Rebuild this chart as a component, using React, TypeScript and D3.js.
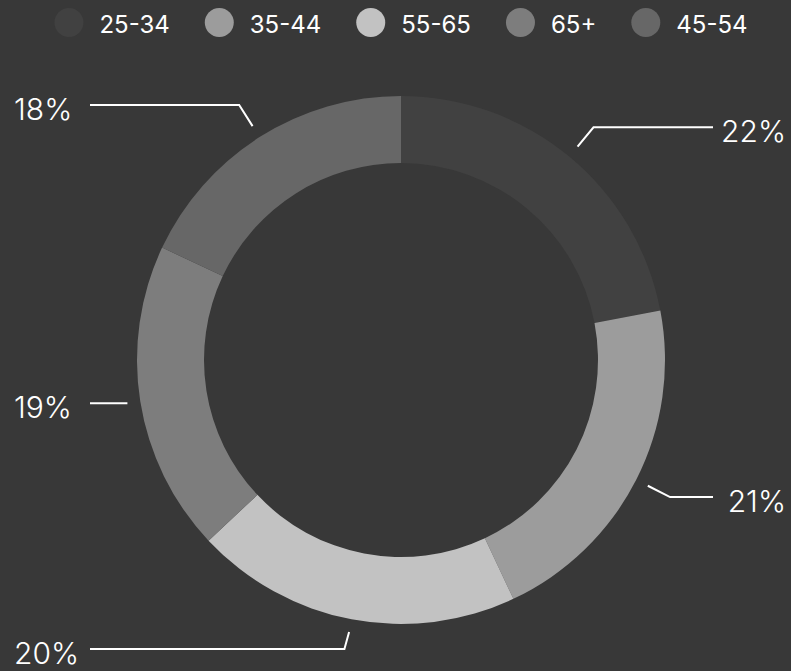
import React, { useEffect, useRef } from "react";
import * as d3 from "d3";

const categories = ["25-34", "35-44", "55-65", "65+", "45-54"];
const values = [22, 21, 20, 19, 18];
const colors = ["#414141", "#9c9c9c", "#c2c2c2", "#7d7d7d", "#676767"];

const W = 791;
const H = 671;
const BG = "#383838";
const FONT = "Inter, 'Noto Sans', sans-serif";

export default function App() {
  const ref = useRef<SVGSVGElement | null>(null);

  useEffect(() => {
    const svg = d3.select(ref.current);
    svg.selectAll("*").remove();

    svg.append("rect").attr("width", W).attr("height", H).attr("fill", BG);

    const cx = 401, cy = 360;
    const rOuter = 264, rInner = 197;

    const pie = d3.pie<number>().sort(null).value((d) => d);
    const arcs = pie(values);
    const arc = d3.arc<d3.PieArcDatum<number>>().innerRadius(rInner).outerRadius(rOuter);

    const g = svg.append("g").attr("transform", `translate(${cx},${cy})`);
    g.selectAll("path.slice")
      .data(arcs)
      .join("path")
      .attr("class", "slice")
      .attr("d", arc)
      .attr("fill", (_, i) => colors[i]);

    // labels with leader lines
    const r1 = rOuter + 13;
    const r2 = rOuter + 38;
    const leftTextX = 14;
    const rightTextX = 786;
    const leftLineX = 90;
    const rightLineX = 713;
    const topLimit = 100;
    const bottomLimit = 649;

    const lab = svg.append("g");
    arcs.forEach((a, i) => {
      const mid = (a.startAngle + a.endAngle) / 2;
      const sx = cx + r1 * Math.sin(mid);
      const sy = cy - r1 * Math.cos(mid);
      const ex = cx + r2 * Math.sin(mid);
      let ey = cy - r2 * Math.cos(mid);
      if (Math.abs(Math.cos(mid)) < 0.2) ey = sy;
      ey = Math.max(topLimit, Math.min(bottomLimit, ey));
      const right = Math.sin(mid) >= 0;
      const lx = right ? rightLineX : leftLineX;
      lab.append("path")
        .attr("d", d3.line()([[sx, sy], [ex, ey], [lx, ey]]))
        .attr("fill", "none")
        .attr("stroke", "#ffffff")
        .attr("stroke-width", 2);
      lab.append("text")
        .attr("x", right ? rightTextX : leftTextX)
        .attr("y", ey + 15)
        .attr("text-anchor", right ? "end" : "start")
        .attr("fill", "#ffffff")
        .attr("font-family", FONT)
        .attr("font-weight", 300)
        .attr("font-size", 30)
        .text(`${values[i]}%`);
    });

    // legend
    const leg = svg.append("g");
    const r = 14.5;
    const gapCircleText = 16;
    const gapItem = 35;
    const items = categories.map((c, i) => {
      const item = leg.append("g");
      item.append("circle").attr("r", r).attr("cy", 22.5).attr("cx", r).attr("fill", colors[i]);
      const t = item.append("text")
        .attr("x", 2 * r + gapCircleText)
        .attr("y", 33)
        .attr("fill", "#ffffff")
        .attr("font-family", FONT)
        .attr("font-weight", 400)
        .attr("font-size", 24)
        .text(c);
      const w = (t.node() as SVGTextElement).getComputedTextLength();
      return { item, width: 2 * r + gapCircleText + w };
    });
    const total = d3.sum(items, (d) => d.width) + gapItem * (items.length - 1);
    let x = cx - total / 2;
    items.forEach((d) => {
      d.item.attr("transform", `translate(${x},0)`);
      x += d.width + gapItem;
    });
  }, []);

  return (
    <svg
      ref={ref}
      width={W}
      height={H}
      style={{ position: "fixed", left: 0, top: 0, display: "block" }}
    />
  );
}
